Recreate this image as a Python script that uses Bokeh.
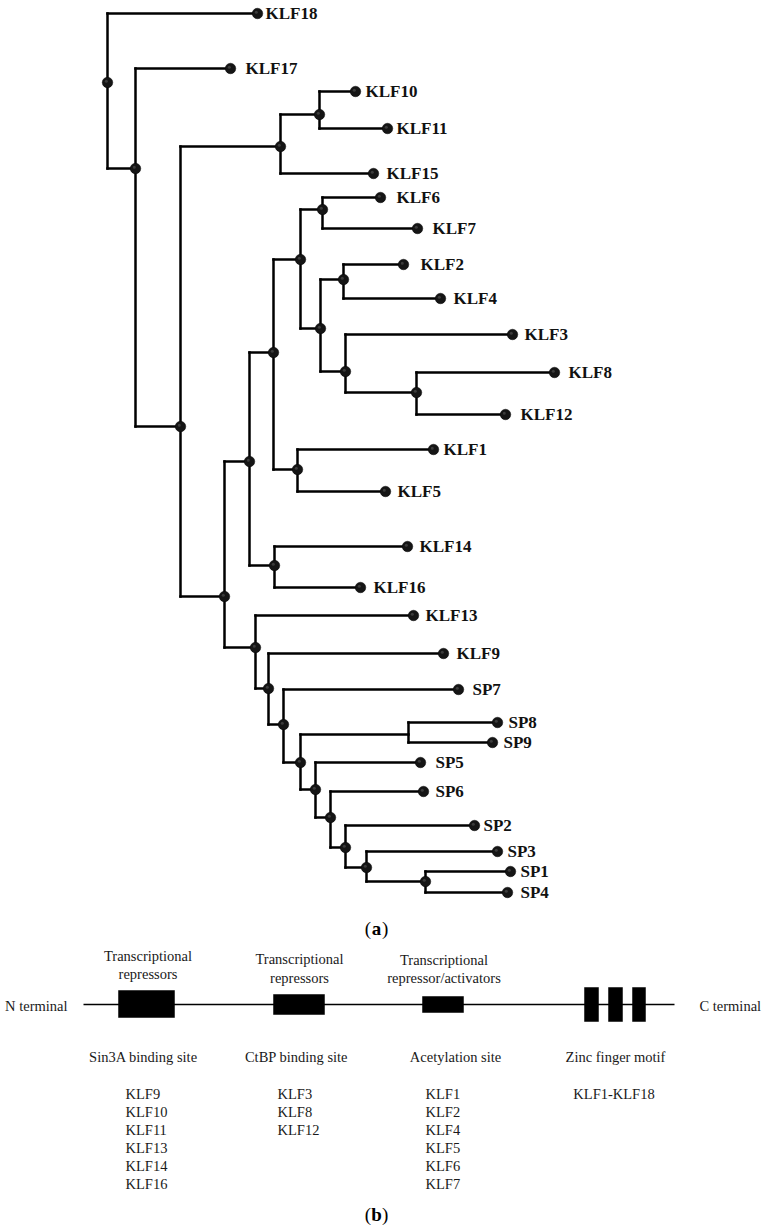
from bokeh.plotting import figure
from bokeh.models import Range1d
from bokeh.embed import file_html
from bokeh.resources import INLINE
from bokeh.core.properties import value

# ---------------- (a) phylogenetic tree data ----------------
# leaves: name, tip position (branch depth, px-scale units), row position
leaf_names = ["KLF18", "KLF17", "KLF10", "KLF11", "KLF15", "KLF6", "KLF7", "KLF2", "KLF4",
              "KLF3", "KLF8", "KLF12", "KLF1", "KLF5", "KLF14", "KLF16", "KLF13", "KLF9",
              "SP7", "SP8", "SP9", "SP5", "SP6", "SP2", "SP3", "SP1", "SP4"]
leaf_depth = [257, 230, 355, 387, 373, 380, 417, 403, 440,
              512, 554, 505, 433, 385, 407, 360, 413, 443,
              458, 497, 492, 420, 423, 474, 497, 510, 507]
leaf_row = [13, 68, 91, 128, 173, 197, 228, 264, 298,
            334, 372, 414, 449, 491, 546, 587, 615, 653,
            689, 722, 742, 762, 791, 825, 851, 871, 892]

# internal nodes: name, depth, row, children, has a node marker
node_names = ["root", "n2", "n3", "n1015", "n1011", "na", "nb", "nd", "ne", "n67", "nf",
              "n24", "ng", "n812", "n15", "n1416", "nc", "nh", "ni", "nj", "n89",
              "nk", "nl", "nm", "nn", "no"]
node_depth = [107, 135, 180, 280, 319, 224, 249, 273, 300, 322, 320,
              343, 345, 416, 297, 274, 255, 268, 283, 300, 408,
              315, 330, 345, 366, 425]
node_row = [82, 168, 426, 146, 114, 596, 461, 352, 259, 209, 328,
            279, 371, 392, 469, 565, 647, 688, 724, 762, 734,
            789, 817, 847, 867, 881]
node_children = [["KLF18", "n2"], ["KLF17", "n3"], ["n1015", "na"], ["n1011", "KLF15"],
                 ["KLF10", "KLF11"], ["nb", "nc"], ["nd", "n1416"], ["ne", "n15"],
                 ["n67", "nf"], ["KLF6", "KLF7"], ["n24", "ng"], ["KLF2", "KLF4"],
                 ["KLF3", "n812"], ["KLF8", "KLF12"], ["KLF1", "KLF5"], ["KLF14", "KLF16"],
                 ["KLF13", "nh"], ["KLF9", "ni"], ["SP7", "nj"], ["n89", "nk"],
                 ["SP8", "SP9"], ["SP5", "nl"], ["SP6", "nm"], ["SP2", "nn"],
                 ["SP3", "no"], ["SP1", "SP4"]]
node_marked = [True] * 20 + [False] + [True] * 5

# ---------------- (b) KLF domain structure data ----------------
domain_roles = [["Transcriptional", "repressors"], ["Transcriptional", "repressors"],
                ["Transcriptional", "repressor/activators"], []]
domain_sites = ["Sin3A binding site", "CtBP binding site", "Acetylation site", "Zinc finger motif"]
domain_members = [["KLF9", "KLF10", "KLF11", "KLF13", "KLF14", "KLF16"],
                  ["KLF3", "KLF8", "KLF12"],
                  ["KLF1", "KLF2", "KLF4", "KLF5", "KLF6", "KLF7"],
                  ["KLF1-KLF18"]]
terminal_labels = ["N terminal", "C terminal"]

# ---------------- layout (picture pixel coordinates) ----------------
W, H = 766, 1228
p = figure(width=W, height=H, output_backend="svg", toolbar_location=None,
           x_range=Range1d(0, W), y_range=Range1d(H, 0),
           min_border=0, min_border_left=0, min_border_right=0,
           min_border_top=0, min_border_bottom=0)
p.xaxis.visible = False
p.yaxis.visible = False
p.xgrid.visible = False
p.ygrid.visible = False
p.outline_line_color = None
p.background_fill_color = "white"
p.border_fill_color = "white"

pos = {}
for n, d, r in zip(leaf_names, leaf_depth, leaf_row):
    pos[n] = (d, r)
for n, d, r in zip(node_names, node_depth, node_row):
    pos[n] = (d, r)

x0, y0, x1, y1 = [], [], [], []
for n, kids in zip(node_names, node_children):
    px, py = pos[n]
    ys = [pos[k][1] for k in kids] + [py]
    x0.append(px); x1.append(px); y0.append(min(ys)); y1.append(max(ys))
    for k in kids:
        kx, ky = pos[k]
        x0.append(px); x1.append(kx); y0.append(ky); y1.append(ky)

p.segment(x0=x0, y0=y0, x1=x1, y1=y1, line_color="black", line_width=2.5, line_cap="square")

# markers
mx = leaf_depth + [d for d, m in zip(node_depth, node_marked) if m]
my = leaf_row + [r for r, m in zip(node_row, node_marked) if m]
p.scatter(x=mx, y=my, size=10.5, fill_color="#151515", line_color="#000000", line_width=0.5)
p.scatter(x=[x - 1.2 for x in mx], y=[y - 1.2 for y in my], size=3,
          fill_color="#555555", line_color=None, fill_alpha=0.6)

# leaf labels (gap between tip marker and label, as drawn in the original)
label_gap = [8, 15, 10, 9, 13, 16, 15, 17, 13,
             12, 14, 15, 10, 12, 12, 13, 12, 13,
             14, 11, 11, 15, 12, 9, 10, 10, 13]
p.text(x=[d + g for d, g in zip(leaf_depth, label_gap)], y=leaf_row, text=leaf_names,
       text_font=value("Liberation Serif"), text_font_style="bold",
       text_font_size="17px", text_baseline="middle", text_align="left",
       text_color="#111111")

# panel captions
def caption(letter, cx, cy):
    p.text(x=[cx - 5.5], y=[cy], text=["("], text_font=value("Liberation Serif"),
           text_font_size="19px", text_baseline="middle", text_align="right", text_color="black")
    p.text(x=[cx], y=[cy], text=[letter], text_font=value("Liberation Serif"),
           text_font_style="bold", text_font_size="19px", text_baseline="middle",
           text_align="center", text_color="black")
    p.text(x=[cx + 5.5], y=[cy], text=[")"], text_font=value("Liberation Serif"),
           text_font_size="19px", text_baseline="middle", text_align="left", text_color="black")

caption("a", 376, 928)
caption("b", 376, 1214)

# ---------------- (b) drawing ----------------
line_y = 1004
p.segment(x0=[83], y0=[line_y], x1=[674], y1=[line_y], line_color="black", line_width=1.3)
box_left = [118, 273, 422, 584, 608, 632]
box_right = [174, 324, 463, 598, 622, 645]
box_top = [990, 994, 996, 987, 987, 987]
box_bottom = [1017, 1014, 1012, 1021, 1021, 1021]
p.quad(left=box_left, right=box_right, top=box_top, bottom=box_bottom,
       fill_color="black", line_color="black", line_width=0.5)

serif = value("Liberation Serif")
fs = "14.5px"
tc = "#1a1a1a"
# terminals
p.text(x=[67], y=[1005], text=[terminal_labels[0]], text_font=serif, text_font_size=fs,
       text_baseline="middle", text_align="right", text_color=tc)
p.text(x=[699], y=[1005], text=[terminal_labels[1]], text_font=serif, text_font_size=fs,
       text_baseline="middle", text_align="left", text_color=tc)

role_cx = [147.5, 299, 443.5, 615]
role_y = [[955, 973], [958, 977], [959, 977], []]
site_cx = [143, 296, 455, 615]
site_y = 1056
member_x = [125, 277, 425, 613.5]
member_align = ["left", "left", "left", "center"]
member_y0, member_dy = 1093, 18

for i in range(4):
    for line, yy in zip(domain_roles[i], role_y[i]):
        p.text(x=[role_cx[i]], y=[yy], text=[line], text_font=serif, text_font_size=fs,
               text_baseline="middle", text_align="center", text_color=tc)
    p.text(x=[site_cx[i]], y=[site_y], text=[domain_sites[i]], text_font=serif,
           text_font_size=fs, text_baseline="middle", text_align="center", text_color=tc)
    ys = [member_y0 + j * member_dy for j in range(len(domain_members[i]))]
    p.text(x=[member_x[i]] * len(ys), y=ys, text=domain_members[i], text_font=serif,
           text_font_size=fs, text_baseline="middle", text_align=member_align[i],
           text_color=tc)

open("out.html", "w").write(file_html(p, INLINE))
